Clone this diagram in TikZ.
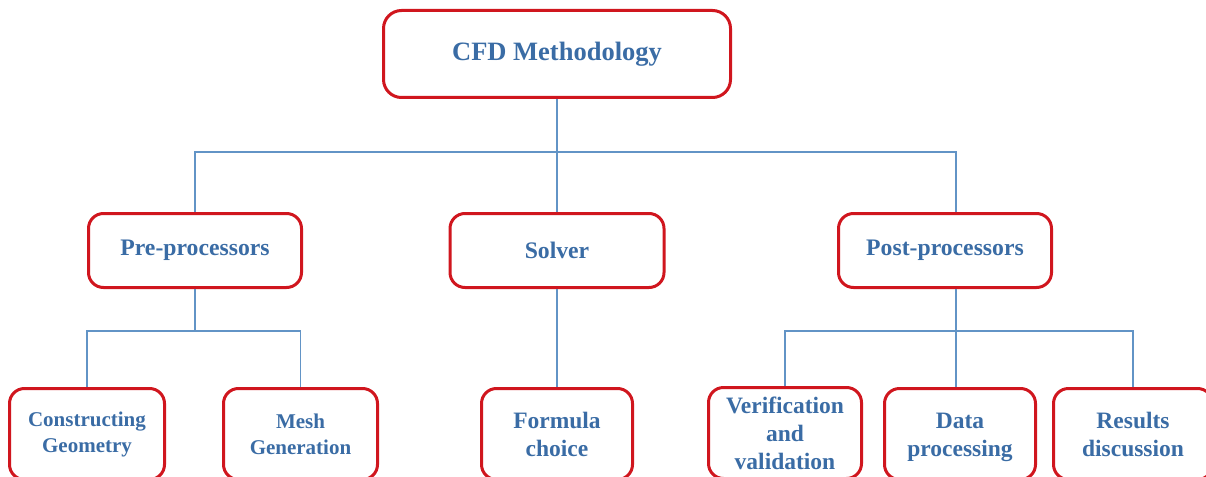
\documentclass[tikz,border=0pt]{standalone}
\usepackage{fontspec}
\setmainfont{Liberation Serif}
\begin{document}
\definecolor{boxred}{RGB}{208,22,30}
\definecolor{txtblue}{RGB}{58,108,165}
\definecolor{lineblue}{RGB}{98,148,198}
\begin{tikzpicture}[x=1pt,y=-1pt,
  box/.style={draw=boxred, line width=3pt, rounded corners=15pt, fill=white,
    text=txtblue, align=center, inner sep=0pt, font=\bfseries},
  rootbox/.style={box, minimum width=347pt, minimum height=87pt, rounded corners=18pt,
    font=\bfseries\fontsize{26.5}{30}\selectfont},
  midbox/.style={box, minimum width=213pt, minimum height=74pt,
    font=\bfseries\fontsize{23.7}{28}\selectfont},
  leafbox/.style={box, minimum height=91pt,
    font=\bfseries\fontsize{23.5}{28}\selectfont},
  smallleaf/.style={leafbox, font=\bfseries\fontsize{21}{26}\selectfont},
  conn/.style={draw=lineblue, line width=1.5pt}]
\useasboundingbox (0,0) rectangle (1206,476);
\clip (0,0) rectangle (1206,476);

% junction points of the connector tree
\coordinate (busTop) at (557,152);
\coordinate (preBus) at (195,331);
\coordinate (postX) at (956,0);
\coordinate (postBus) at (956,331);

% hierarchy boxes
\node[rootbox] (root) at (557,54) {CFD Methodology};
\node[midbox] (pre) at (195,250.5) {Pre-processors};
\node[midbox, minimum width=214pt] (solver) at (557,250.5) {Solver};
\node[midbox] (post) at (945,250.5) {Post-processors};

\node[smallleaf, minimum width=155pt] (geo) at (87,434) {Constructing\\Geometry};
\node[smallleaf, minimum width=154pt] (mesh) at (300.5,434) {Mesh\\Generation};
\node[leafbox, minimum width=151pt] (formula) at (557,434) {Formula\\choice};
\node[leafbox, minimum width=153pt] (verif) at (785,433) {Verification\\and\\validation};
\node[leafbox, minimum width=151pt] (data) at (960,434) {\rule{0pt}{22pt}Data\\processing};
\node[leafbox, minimum width=159pt] (results) at (1133,434) {Results\\discussion};

% connector tree
\draw[conn] (root.south) -- (busTop) -- (solver.north);
\draw[conn] (pre.north) |- (busTop) -| (post.north -| postX);
\draw[conn] (solver.south) -- (formula.north);
\draw[conn] (pre.south) -- (preBus);
\draw[conn] (geo.north) |- (preBus) -| (mesh.north);
\draw[conn] (post.south -| postX) -- (postBus) -- (data.north -| postX);
\draw[conn] (verif.north) |- (postBus) -| (results.north);
\end{tikzpicture}
\end{document}
